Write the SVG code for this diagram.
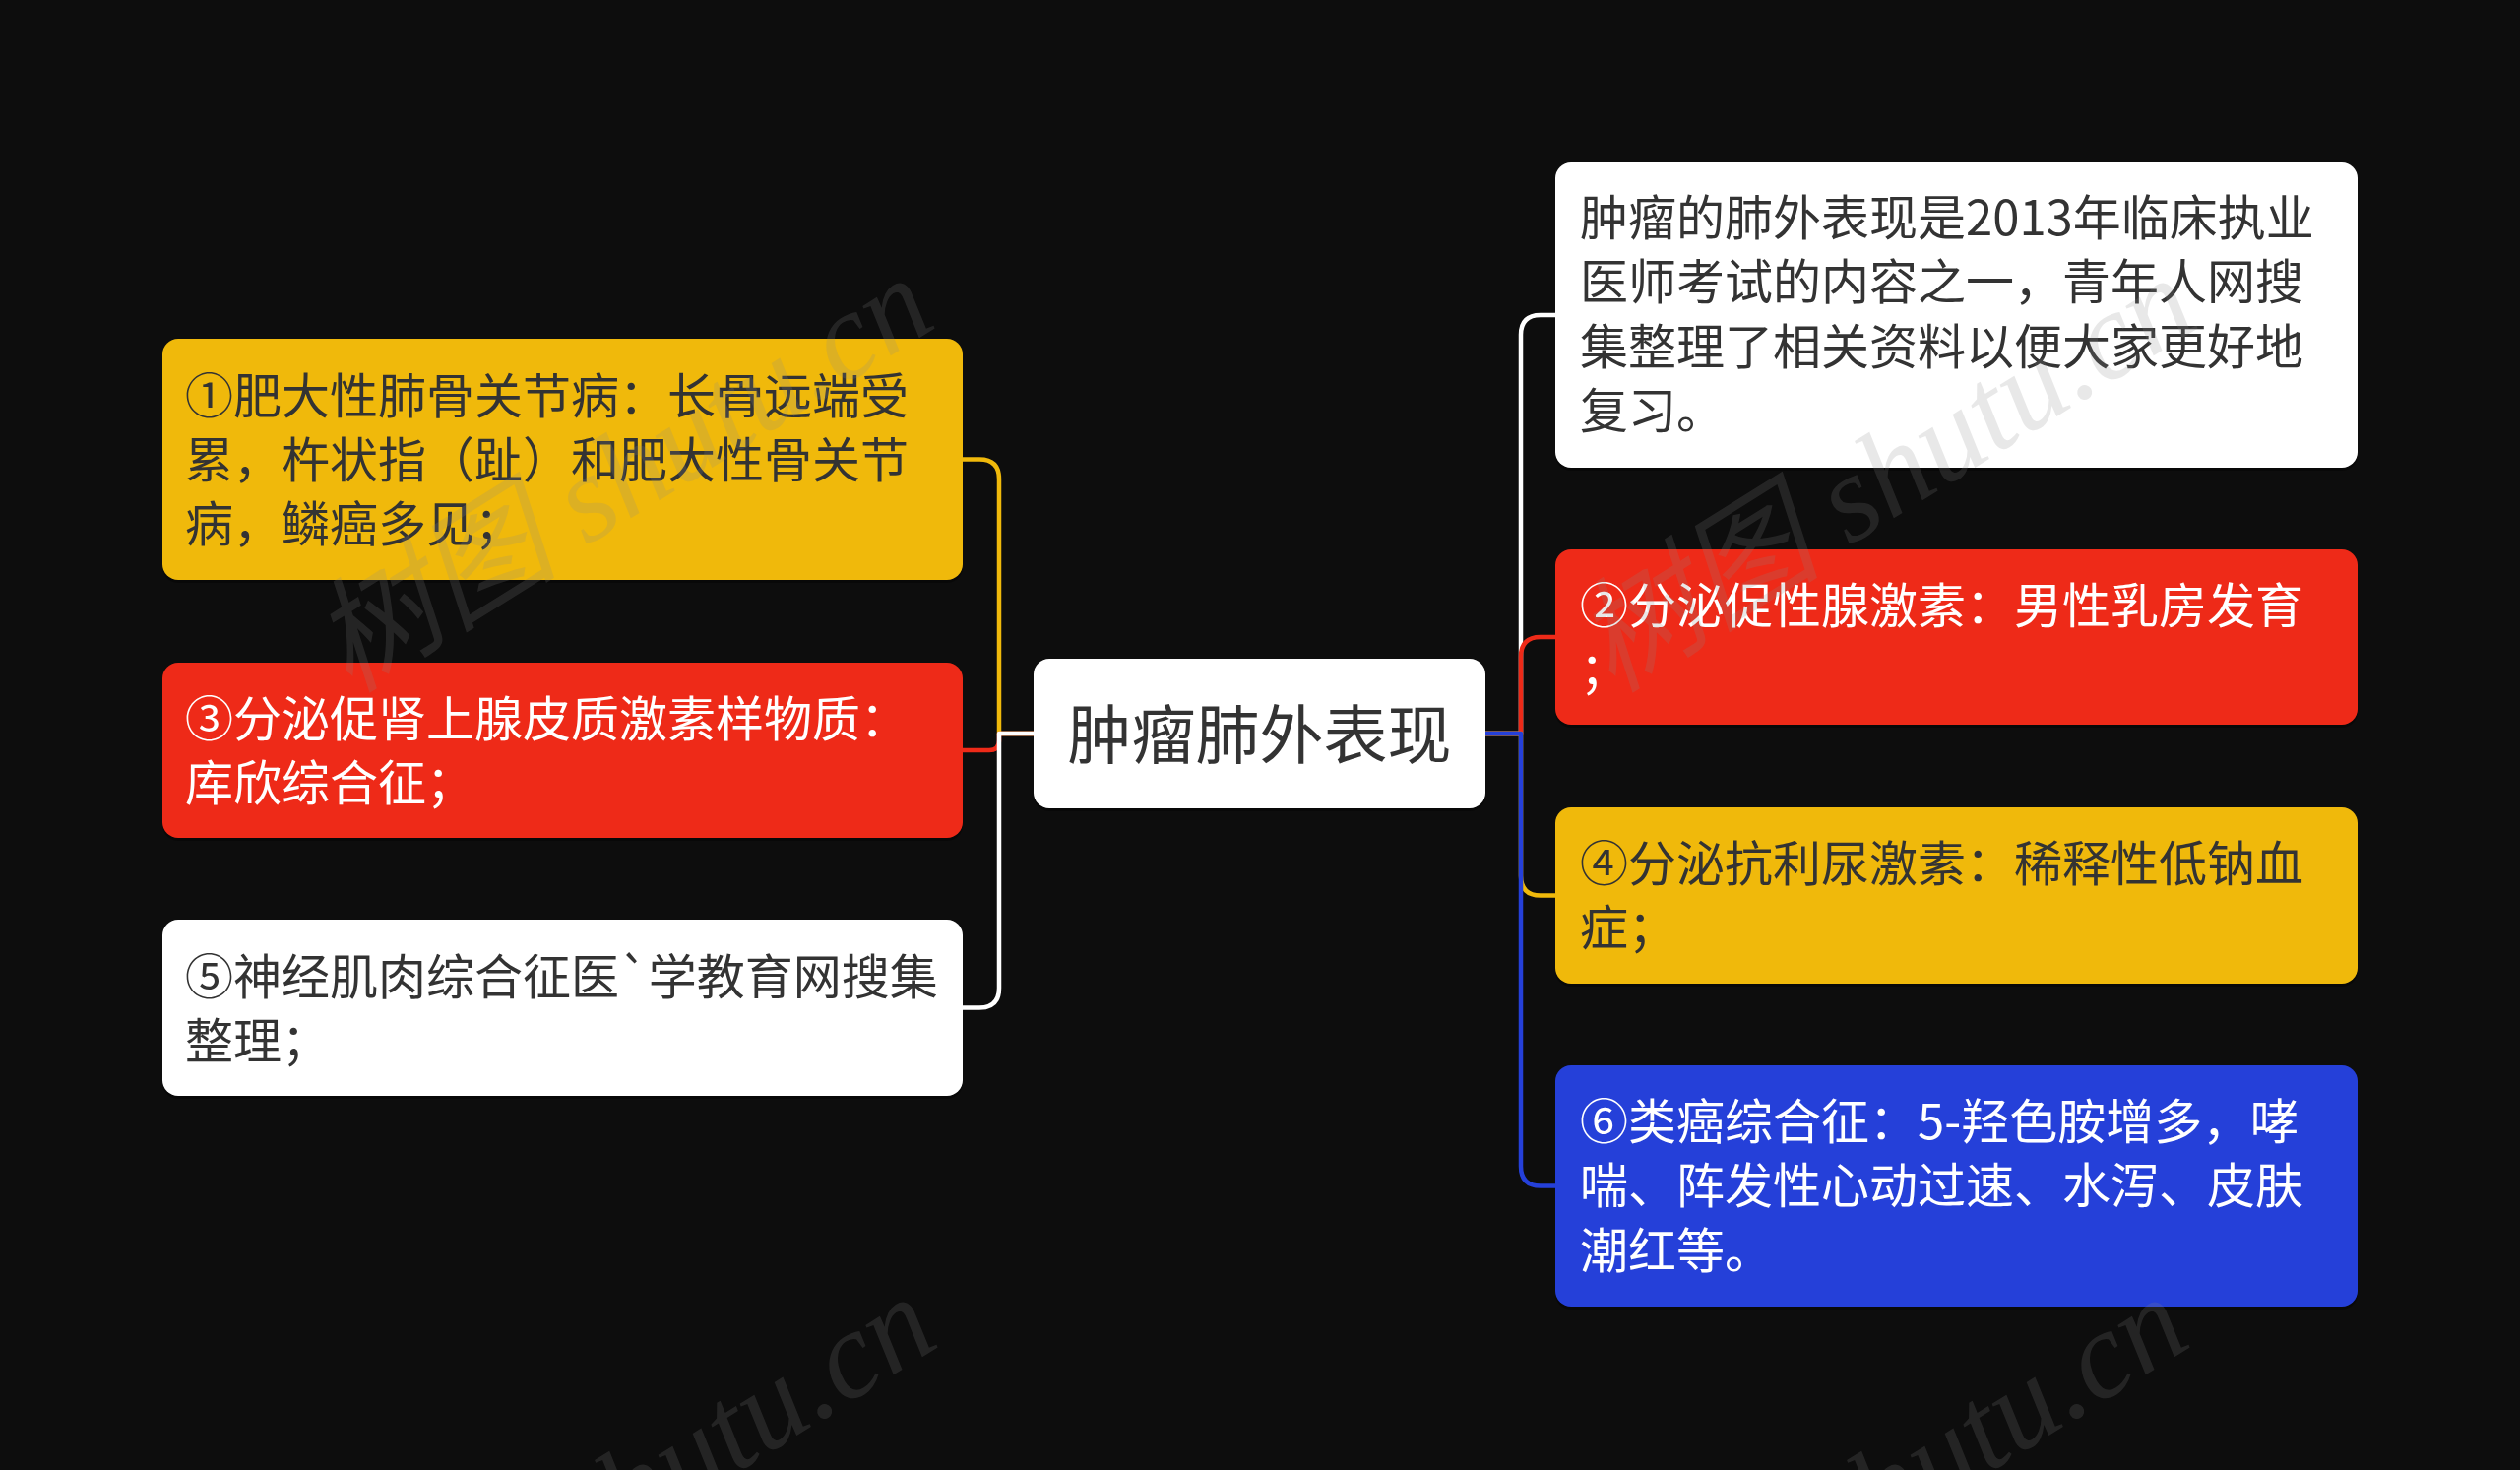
<svg xmlns="http://www.w3.org/2000/svg" width="2560" height="1493" viewBox="0 0 2560 1493">
<defs>
<style>
.bg{fill:#0d0d0d}
.box{stroke:none}
.sh{fill:#000;opacity:0.35}
.yel{fill:#f0b90b}
.red{fill:#ee2a18}
.wht{fill:#ffffff}
.blu{fill:#2540d9}
.t{font-family:"Noto Sans CJK SC","Noto Sans",sans-serif;font-size:49px}
.dk{fill:#333333}
.lt{fill:#ffffff}
.ctr{font-family:"Noto Sans CJK SC","Noto Sans",sans-serif;font-size:65px;fill:#333333}
.ln{fill:none;stroke-width:4.5;stroke-linejoin:round;stroke-linecap:butt}
.wm{font-family:"Liberation Serif","Noto Sans CJK SC",serif;font-style:italic;font-size:126px;fill:#8a8a8a;opacity:0.19}
</style>
</defs>
<rect class="bg" x="0" y="0" width="2560" height="1493"/>

<g id="connectors">
<path class="ln" stroke="#f0b90b" d="M1050,745 H1015 V486.5 Q1015,466.5 995,466.5 H978"/>
<path class="ln" stroke="#ee2a18" d="M1050,745 H1015 V752 Q1015,762 1005,762 H978"/>
<path class="ln" stroke="#ffffff" d="M1050,745 H1015 V1003.5 Q1015,1023.5 995,1023.5 H978"/>
<path class="ln" stroke="#ffffff" d="M1509,745 H1545 V340 Q1545,320 1565,320 H1580"/>
<path class="ln" stroke="#ee2a18" d="M1509,745 H1545 V667 Q1545,647 1565,647 H1580"/>
<path class="ln" stroke="#f0b90b" d="M1509,745 H1545 V889.5 Q1545,909.5 1565,909.5 H1580"/>
<path class="ln" stroke="#2540d9" d="M1509,745 H1545 V1184.5 Q1545,1204.5 1565,1204.5 H1580"/>
</g>

<g id="center">
<rect class="sh" x="1050" y="672" width="459" height="152" rx="16"/>
<rect class="box wht" x="1050" y="669" width="459" height="152" rx="16"/>
<text class="ctr" x="1279.5" y="770" text-anchor="middle">肿瘤肺外表现</text>
</g>

<g id="node1">
<rect class="sh" x="165" y="347" width="813" height="245" rx="16"/>
<rect class="box yel" x="165" y="344" width="813" height="245" rx="16"/>
<text class="t dk"><tspan x="188" y="420">①肥大性肺骨关节病：长骨远端受</tspan><tspan x="188" y="485">累，杵状指（趾）和肥大性骨关节</tspan><tspan x="188" y="550">病，鳞癌多见；</tspan></text>
</g>

<g id="node3">
<rect class="sh" x="165" y="676" width="813" height="178" rx="16"/>
<rect class="box red" x="165" y="673" width="813" height="178" rx="16"/>
<text class="t lt"><tspan x="188" y="748">③分泌促肾上腺皮质激素样物质：</tspan><tspan x="188" y="813">库欣综合征；</tspan></text>
</g>

<g id="node5">
<rect class="sh" x="165" y="937" width="813" height="179" rx="16"/>
<rect class="box wht" x="165" y="934" width="813" height="179" rx="16"/>
<text class="t dk"><tspan x="188" y="1010">⑤神经肌肉综合征医`学教育网搜集</tspan><tspan x="188" y="1075">整理；</tspan></text>
</g>

<g id="intro">
<rect class="sh" x="1580" y="168" width="815" height="310" rx="16"/>
<rect class="box wht" x="1580" y="165" width="815" height="310" rx="16"/>
<text class="t dk"><tspan x="1605" y="239">肿瘤的肺外表现是2013年临床执业</tspan><tspan x="1605" y="304">医师考试的内容之一，青年人网搜</tspan><tspan x="1605" y="370">集整理了相关资料以便大家更好地</tspan><tspan x="1605" y="435">复习。</tspan></text>
</g>

<g id="node2">
<rect class="sh" x="1580" y="561" width="815" height="178" rx="16"/>
<rect class="box red" x="1580" y="558" width="815" height="178" rx="16"/>
<text class="t lt"><tspan x="1605" y="633">②分泌促性腺激素：男性乳房发育</tspan><tspan x="1605" y="698">；</tspan></text>
</g>

<g id="node4">
<rect class="sh" x="1580" y="823" width="815" height="179" rx="16"/>
<rect class="box yel" x="1580" y="820" width="815" height="179" rx="16"/>
<text class="t dk"><tspan x="1605" y="895">④分泌抗利尿激素：稀释性低钠血</tspan><tspan x="1605" y="960">症；</tspan></text>
</g>

<g id="node6">
<rect class="sh" x="1580" y="1085" width="815" height="245" rx="16"/>
<rect class="box blu" x="1580" y="1082" width="815" height="245" rx="16"/>
<text class="t lt"><tspan x="1605" y="1157">⑥类癌综合征：5-羟色胺增多，哮</tspan><tspan x="1605" y="1222">喘、阵发性心动过速、水泻、皮肤</tspan><tspan x="1605" y="1288">潮红等。</tspan></text>
</g>

<g id="watermarks">
<text class="wm" transform="translate(355,705) rotate(-32)">树图 shutu.cn</text>
<text class="wm" transform="translate(1638,705) rotate(-32)">树图 shutu.cn</text>
<text class="wm" transform="translate(358,1740) rotate(-32)">树图 shutu.cn</text>
<text class="wm" transform="translate(1630,1740) rotate(-32)">树图 shutu.cn</text>
</g>
</svg>
